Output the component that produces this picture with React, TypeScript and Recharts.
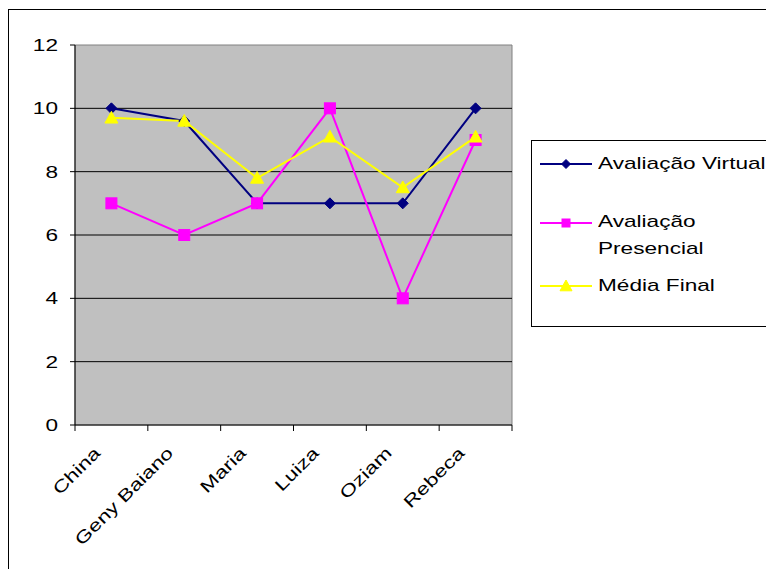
import React from 'react';
import { LineChart, Line, XAxis, YAxis, ReferenceArea, ReferenceLine, Legend } from 'recharts';

const categories = ['China', 'Geny Baiano', 'Maria', 'Luiza', 'Oziam', 'Rebeca'];
const avaliacaoVirtual = [10, 9.6, 7, 7, 7, 10];
const avaliacaoPresencial = [7, 6, 7, 10, 4, 9];
const mediaFinal = [9.7, 9.6, 7.8, 9.1, 7.5, 9.1];
const yTicks = [0, 2, 4, 6, 8, 10, 12];
const seriesNames = ['Avaliação Virtual', 'Avaliação Presencial', 'Média Final'];

const FONT = '"Liberation Sans", Arial, sans-serif';
const FONT_SIZE = 17;
const STRETCH = 1.33;

const data = categories.map((name, i) => ({
  name,
  pos: i + 0.5,
  virtual: avaliacaoVirtual[i],
  presencial: avaliacaoPresencial[i],
  media: mediaFinal[i],
}));

const xTicks: number[] = [];
for (let i = 0; i <= categories.length * 2; i++) xTicks.push(i / 2);

const Diamond = ({ cx, cy, r, fill }: any) => (
  <polygon points={`${cx},${cy - r} ${cx + r},${cy} ${cx},${cy + r} ${cx - r},${cy}`} fill={fill} stroke={fill} />
);
const Square = ({ cx, cy, r, fill }: any) => (
  <rect x={cx - r} y={cy - r} width={2 * r} height={2 * r} fill={fill} stroke={fill} />
);
const Triangle = ({ cx, cy, r, fill }: any) => (
  <polygon points={`${cx},${cy - r} ${cx + r},${cy + r * 0.8} ${cx - r},${cy + r * 0.8}`} fill={fill} stroke={fill} />
);

const makeDot = (Shape: any, r: number, fill: string) => (props: any) => {
  const { cx, cy, index } = props;
  if (cx == null || cy == null) return <g key={index} />;
  return <Shape key={index} cx={cx} cy={cy} r={r} fill={fill} />;
};

const XTick = (props: any) => {
  const { x, y, payload } = props;
  const v = payload.value;
  if (Number.isInteger(v)) {
    return <line x1={x} x2={x} y1={y} y2={y + 6} stroke="#000" strokeWidth={1} />;
  }
  const name = categories[Math.floor(v)];
  return (
    <g transform={`translate(${x - 10},${y + 29}) rotate(-45) scale(${STRETCH},1)`}>
      <text textAnchor="end" fontSize={FONT_SIZE} fontFamily={FONT} fill="#000">{name}</text>
    </g>
  );
};

const YTick = (props: any) => {
  const { x, y, payload } = props;
  return (
    <g transform={`translate(${x},${y}) scale(${STRETCH},1)`}>
      <text textAnchor="end" dy="0.36em" fontSize={FONT_SIZE} fontFamily={FONT} fill="#000">{payload.value}</text>
    </g>
  );
};

const colors = ['#000080', '#FF00FF', '#FFFF00'];

const LegendSwatch = ({ idx }: { idx: number }) => {
  const c = colors[idx];
  return (
    <svg width={52} height={16} style={{ display: 'block' }}>
      <line x1={0} x2={52} y1={8} y2={8} stroke={c} strokeWidth={2} />
      {idx === 0 && <Diamond cx={26} cy={8} r={4.5} fill={c} />}
      {idx === 1 && <Square cx={26} cy={8} r={4} fill={c} />}
      {idx === 2 && <Triangle cx={26} cy={8} r={6} fill={c} />}
    </svg>
  );
};

const LegendText = ({ children }: any) => (
  <div style={{ transform: `scaleX(${STRETCH})`, transformOrigin: 'left center', whiteSpace: 'nowrap', lineHeight: '27px' }}>{children}</div>
);

const LegendContent = () => (
  <div style={{ width: 270, height: 187, border: '1px solid #000', boxSizing: 'border-box', background: '#fff', position: 'relative', fontFamily: FONT, fontSize: FONT_SIZE, color: '#000' }}>
    <div style={{ position: 'absolute', left: 8, top: 9, display: 'flex', alignItems: 'center' }}>
      <LegendSwatch idx={0} />
      <div style={{ marginLeft: 6 }}><LegendText>{seriesNames[0]}</LegendText></div>
    </div>
    <div style={{ position: 'absolute', left: 8, top: 74 }}>
      <div style={{ position: 'absolute', left: 0, top: 0 }}><LegendSwatch idx={1} /></div>
      <div style={{ position: 'absolute', left: 58, top: -7 }}>
        <LegendText>{seriesNames[1].split(' ')[0]}</LegendText>
        <LegendText>{seriesNames[1].split(' ')[1]}</LegendText>
      </div>
    </div>
    <div style={{ position: 'absolute', left: 8, top: 131, display: 'flex', alignItems: 'center' }}>
      <LegendSwatch idx={2} />
      <div style={{ marginLeft: 6 }}><LegendText>{seriesNames[2]}</LegendText></div>
    </div>
  </div>
);

export default function App() {
  return (
    <div style={{ position: 'relative', width: 766, height: 561, overflow: 'hidden' }}>
      <div style={{ position: 'absolute', left: 0, top: 1, width: 800, height: 620, border: '1px solid #000', boxSizing: 'border-box' }} />
      <div style={{ position: 'absolute', left: 0, top: 0 }}>
        <LineChart width={766} height={561} data={data} margin={{ top: 37, right: 262, bottom: 0, left: 27 }}>
          <XAxis
            dataKey="pos"
            type="number"
            domain={[0, categories.length]}
            ticks={xTicks}
            interval={0}
            tick={<XTick />}
            tickLine={false}
            tickSize={0}
            tickMargin={0}
            height={144}
            axisLine={{ stroke: '#000', strokeWidth: 1 }}
          />
          <YAxis
            type="number"
            domain={[0, 12]}
            ticks={yTicks}
            interval={0}
            width={40}
            tick={<YTick />}
            tickSize={5}
            tickMargin={12}
            tickLine={{ stroke: '#000' }}
            axisLine={{ stroke: '#000', strokeWidth: 1 }}
          />
          <ReferenceArea x1={0} x2={categories.length} y1={0} y2={12} fill="#C0C0C0" fillOpacity={1} stroke="#808080" strokeWidth={1} ifOverflow="visible" />
          {yTicks.filter((t) => t > 0 && t < 12).map((t) => (
            <ReferenceLine key={t} y={t} stroke="#000" strokeWidth={1} ifOverflow="visible" />
          ))}
          <Line type="linear" dataKey="virtual" name={seriesNames[0]} stroke={colors[0]} strokeWidth={2} dot={makeDot(Diamond, 5.5, colors[0])} activeDot={false} isAnimationActive={false} />
          <Line type="linear" dataKey="presencial" name={seriesNames[1]} stroke={colors[1]} strokeWidth={2} dot={makeDot(Square, 5.5, colors[1])} activeDot={false} isAnimationActive={false} />
          <Line type="linear" dataKey="media" name={seriesNames[2]} stroke={colors[2]} strokeWidth={2} dot={makeDot(Triangle, 6.5, colors[2])} activeDot={false} isAnimationActive={false} />
          <Legend
            layout="vertical"
            align="center"
            verticalAlign="middle"
            content={<LegendContent />}
            wrapperStyle={{ position: 'absolute', left: 523, top: 132, width: 270, height: 187 }}
          />
        </LineChart>
      </div>
    </div>
  );
}
